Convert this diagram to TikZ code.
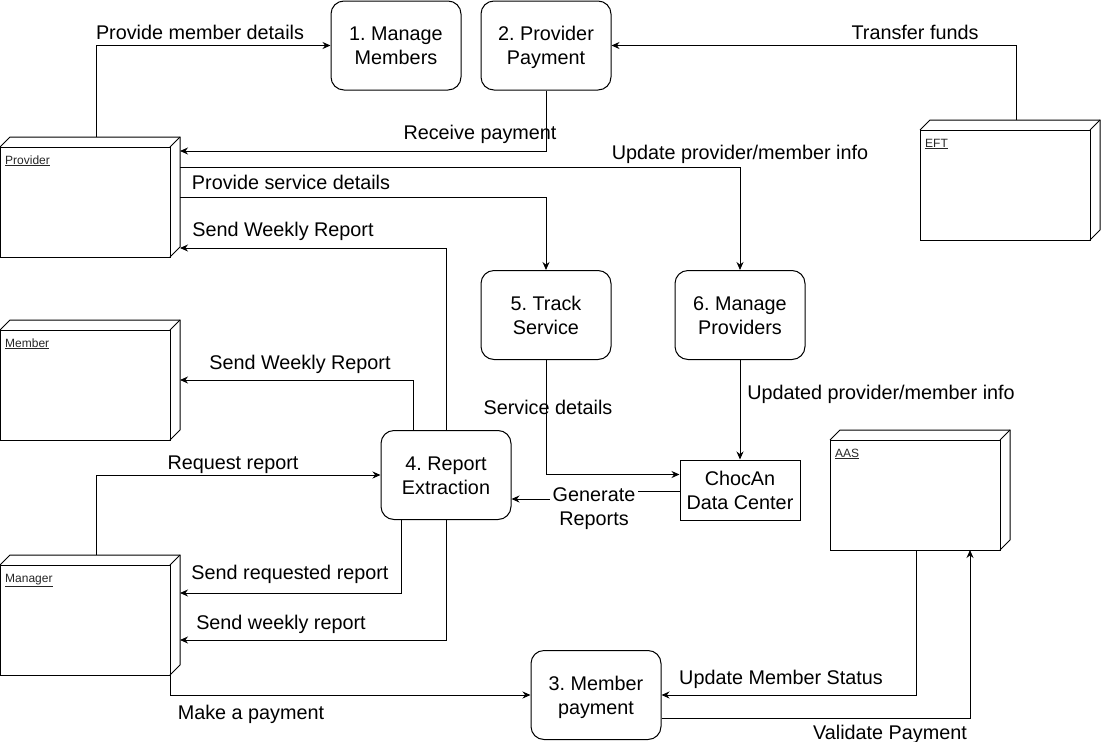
\documentclass[tikz,border=0pt]{standalone}
\usepackage{fontspec}
\setmainfont{Liberation Sans}
\usetikzlibrary{arrows.meta,calc}
\frenchspacing
\tikzset{
  big/.style={font=\fontsize{19.8}{24}\selectfont\frenchspacing, text height=14pt, text depth=0pt, inner sep=0pt, align=center},
  twoline/.style={text height=38pt, text depth=0pt},
  procbox/.style={big, twoline, draw, line width=1pt, rounded corners=13pt, minimum width=130pt, minimum height=89pt},
  dcbox/.style={big, twoline, draw, line width=1pt, minimum width=120pt, minimum height=60pt},
  cubenode/.style={draw=none, inner sep=0pt, outer sep=0pt, minimum width=180pt, minimum height=120pt},
  smalllbl/.style={font=\fontsize{12}{14}\selectfont, inner sep=0pt, anchor=base west, text=black!85},
  arr/.style={line width=1pt, -{Stealth[length=8pt,width=7pt]}},
  lbl/.style={big},
}
\newcommand\cubebox[4]{%
  \node[cubenode] (#1) at ({#2+90},{#3+60}) {};
  \draw[line width=1pt, line join=miter] ({#2},{#3+10}) rectangle ({#2+170},{#3+120});
  \draw[line width=1pt, line join=miter] ({#2},{#3+10}) -- ({#2+10},{#3}) -- ({#2+180},{#3}) -- ({#2+180},{#3+110}) -- ({#2+170},{#3+120});
  \draw[line width=1pt] ({#2+170},{#3+10}) -- ({#2+180},{#3});
  \node[smalllbl] (#1lbl) at ({#2+5},{#3+27}) {\underline{#4}};
}
\begin{document}
\begin{tikzpicture}[x=1pt,y=-1pt]
\useasboundingbox (0,0) rectangle (1101,742);

% 3D boxes
\cubebox{prov}{0}{137}{Provider}
\cubebox{mem}{0}{320}{Member}
\cubebox{man}{0}{555}{Manager}
\cubebox{eft}{920}{120}{EFT}
\cubebox{aas}{830}{430}{AAS}

% processes
\node[procbox] (mm) at (396,45.5) {1. Manage\\Members};
\node[procbox] (pp) at (546,45.5) {2. Provider\\Payment};
\node[procbox] (ts) at (546,315) {5. Track\\Service};
\node[procbox] (mp) at (740,315) {6. Manage\\Providers};
\node[procbox] (re) at (446,475) {4. Report\\Extraction};
\node[procbox] (mpay) at (596,695) {3. Member\\payment};
\node[dcbox] (dc) at (740,490) {ChocAn\\Data Center};

% connectors
\draw[arr] ([xshift=96pt]prov.north west) |- (mm.west);
\draw[arr] (pp.south) |- ([yshift=-14pt]prov.north east);
\draw[arr] ([xshift=96pt]eft.north west) |- (pp.east);
\draw[arr] ([yshift=-30pt]prov.north east) -| (mp.north);
\draw[arr] ([yshift=-60pt]prov.north east) -| (ts.north);
\draw[arr] (re.north) |- ([yshift=-111pt]prov.north east);
\draw[arr] ([xshift=-33pt]re.north) |- ([yshift=-60pt]mem.north east);
\draw[arr] (ts.south) |- ([yshift=-15pt]dc.north west);
\draw[arr] (mp.south) -- (dc.north);
\draw[arr] ([yshift=-1pt]dc.west) -- (594,491) -- (594,499) -- ([yshift=-24pt]re.east);
\draw[arr] ([xshift=96pt]man.north west) |- (re.west);
\draw[arr] ([xshift=-45pt]re.south) |- ([yshift=-38pt]man.north east);
\draw[arr] (re.south) |- ([yshift=-85pt]man.north east);
\draw[arr] ([xshift=-10pt]man.south east) |- (mpay.west);
\draw[arr] ([xshift=-4pt]aas.south) |- (mpay.east);
\draw[arr] ([yshift=-23pt]mpay.east) -| ([xshift=50pt]aas.south);

% labels
\node[lbl] (l1) at (200,32) {Provide member details};
\node[lbl] (l2) at (915,32) {Transfer funds};
\node[lbl] (l3) at (480,132) {Receive payment};
\node[lbl] (l4) at (740,152) {Update provider/member info};
\node[lbl] (l5) at (291,182) {Provide service details};
\node[lbl] (l6) at (283,229) {Send Weekly Report};
\node[lbl] (l7) at (300,362) {Send Weekly Report};
\node[lbl] (l8) at (548,407) {Service details};
\node[lbl] (l9) at (881,392) {Updated provider/member info};
\node[lbl] (l10) at (233,462) {Request report};
\node[lbl, twoline, fill=white, inner sep=3pt] (l11) at (594,506) {Generate\\Reports};
\node[lbl] (l12) at (290,572) {Send requested report};
\node[lbl] (l13) at (281,622) {Send weekly report};
\node[lbl] (l14) at (781,677) {Update Member Status};
\node[lbl] (l15) at (251,712) {Make a payment};
\node[lbl] (l16) at (890,732) {Validate Payment};
\end{tikzpicture}
\end{document}
